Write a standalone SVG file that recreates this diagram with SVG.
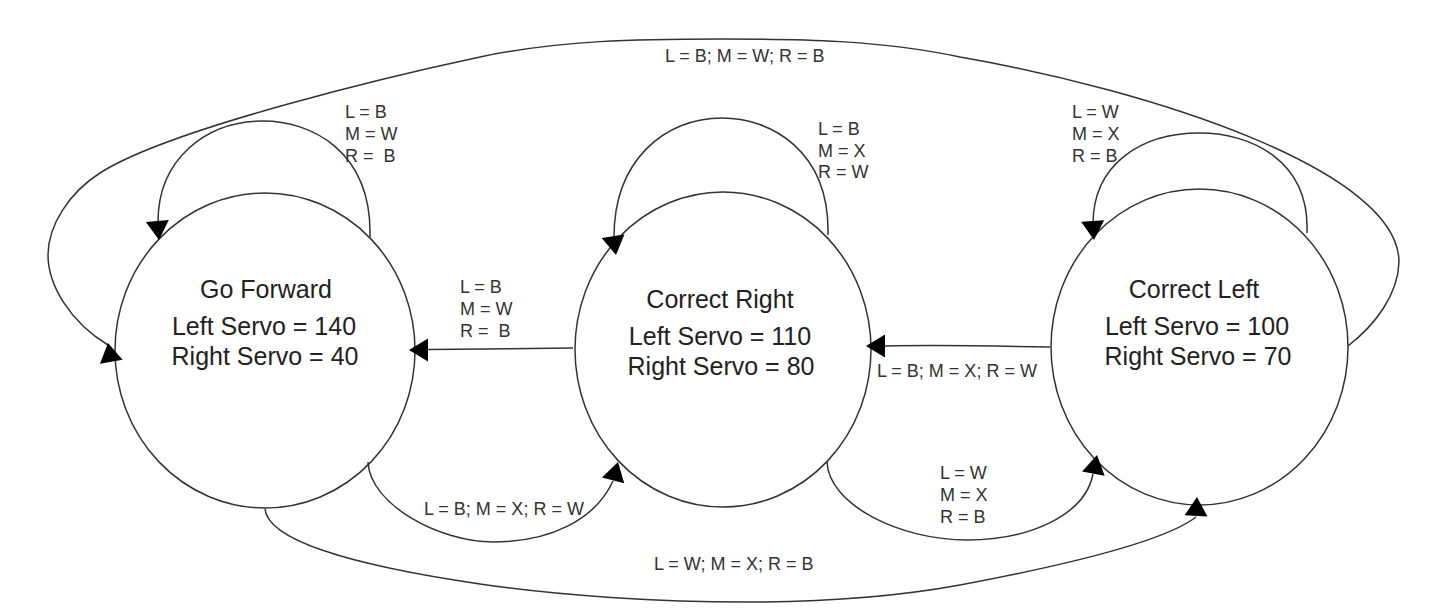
<svg xmlns="http://www.w3.org/2000/svg" xmlns:xlink="http://www.w3.org/1999/xlink" width="1444" height="614" viewBox="0 0 1444 614">
  <style>
    .node { fill: #ffffff; stroke: #333333; stroke-width: 1.5; }
    .edge { fill: none; stroke: #333333; stroke-width: 1.5; }
    .head { fill: #000000; stroke: none; }
    .ntext { font-family: "Liberation Sans", Arial, sans-serif; font-size: 25px; fill: #222222; text-anchor: middle; }
    .etext { font-family: "Liberation Sans", Arial, sans-serif; font-size: 18px; fill: #333333; }
  </style>
  <defs>
    <path id="ah" d="M0,0 L-19,-11.5 L-19,11.5 Z"/>
  </defs>
  <rect width="1444" height="614" fill="#ffffff"/>

  <g id="go-forward">
    <ellipse class="node" cx="265" cy="350.5" rx="150" ry="157.5"/>
    <text class="ntext" x="266" y="298">Go Forward</text>
    <text class="ntext" x="264" y="335">Left Servo = 140</text>
    <text class="ntext" x="265" y="365">Right Servo = 40</text>
  </g>

  <g id="correct-right">
    <ellipse class="node" cx="723" cy="349.5" rx="148" ry="157.5"/>
    <text class="ntext" x="720" y="308">Correct Right</text>
    <text class="ntext" x="720" y="345">Left Servo = 110</text>
    <text class="ntext" x="721" y="375">Right Servo = 80</text>
  </g>

  <g id="correct-left">
    <ellipse class="node" cx="1199.5" cy="347" rx="148.5" ry="158"/>
    <text class="ntext" x="1194" y="298">Correct Left</text>
    <text class="ntext" x="1197" y="335">Left Servo = 100</text>
    <text class="ntext" x="1198" y="365">Right Servo = 70</text>
  </g>

  <g id="connectors">
    <!-- Correct Left -> Go Forward (top big loop) -->
    <path class="edge" d="M1348,346 C1375,325 1398,295 1399,262 C1399,170 1150,90 960,57 C880,40 800,39 720,39 C640,39 560,40 480,57 C400,74 170,128 100,173 C70,192 48,225 48,255 C48,285 70,322 108,345"/>
    <use xlink:href="#ah" class="head" transform="translate(108,343) rotate(-100)"/>
    <text class="etext" x="665" y="62">L = B; M = W; R = B</text>

    <!-- Go Forward self loop -->
    <path class="edge" d="M370,237 C372,150 310,121 263,121 C205,121 158,160 158,222"/>
    <use xlink:href="#ah" class="head" transform="translate(159,240) rotate(85)"/>
    <text class="etext" x="345" y="118">L = B</text>
    <text class="etext" x="345" y="140">M = W</text>
    <text class="etext" x="345" y="162" xml:space="preserve">R =  B</text>

    <!-- Correct Right self loop -->
    <path class="edge" d="M828,235 C830,150 770,118 722,118 C665,118 614,160 614,237"/>
    <use xlink:href="#ah" class="head" transform="translate(616,255) rotate(81)"/>
    <text class="etext" x="818" y="135">L = B</text>
    <text class="etext" x="818" y="157">M = X</text>
    <text class="etext" x="818" y="178">R = W</text>

    <!-- Correct Left self loop -->
    <path class="edge" d="M1307,233 C1310,160 1250,133 1200,133 C1140,133 1093,165 1093,224"/>
    <use xlink:href="#ah" class="head" transform="translate(1094,240) rotate(86)"/>
    <text class="etext" x="1072" y="118">L = W</text>
    <text class="etext" x="1072" y="140">M = X</text>
    <text class="etext" x="1072" y="162">R = B</text>

    <!-- Correct Right -> Go Forward -->
    <path class="edge" d="M573,348 L428,349.5"/>
    <use xlink:href="#ah" class="head" transform="translate(409,350) rotate(180)"/>
    <text class="etext" x="460" y="293">L = B</text>
    <text class="etext" x="460" y="315">M = W</text>
    <text class="etext" x="460" y="337" xml:space="preserve">R =  B</text>

    <!-- Correct Left -> Correct Right -->
    <path class="edge" d="M1050,347 C1000,346 940,345 885,346"/>
    <use xlink:href="#ah" class="head" transform="translate(866,346) rotate(180)"/>
    <text class="etext" x="877" y="377">L = B; M = X; R = W</text>

    <!-- Go Forward -> Correct Right -->
    <path class="edge" d="M368,462 C370,505 440,542 493,542 C550,542 595,520 613,481"/>
    <use xlink:href="#ah" class="head" transform="translate(618,462) rotate(-75)"/>
    <text class="etext" x="424" y="515">L = B; M = X; R = W</text>

    <!-- Correct Right -> Correct Left -->
    <path class="edge" d="M827,462 C829,505 900,540 967,540 C1030,540 1085,515 1093,474"/>
    <use xlink:href="#ah" class="head" transform="translate(1097,455) rotate(-79)"/>
    <text class="etext" x="940" y="479">L = W</text>
    <text class="etext" x="940" y="501">M = X</text>
    <text class="etext" x="940" y="523">R = B</text>

    <!-- Go Forward -> Correct Left (bottom big loop) -->
    <path class="edge" d="M265,509 C268,540 350,565 480,584 C560,596 660,602 747,602 C830,602 900,596 960,585 C1040,570 1160,545 1196,517"/>
    <use xlink:href="#ah" class="head" transform="translate(1197,497) rotate(-87)"/>
    <text class="etext" x="654" y="570">L = W; M = X; R = B</text>
  </g>
</svg>
